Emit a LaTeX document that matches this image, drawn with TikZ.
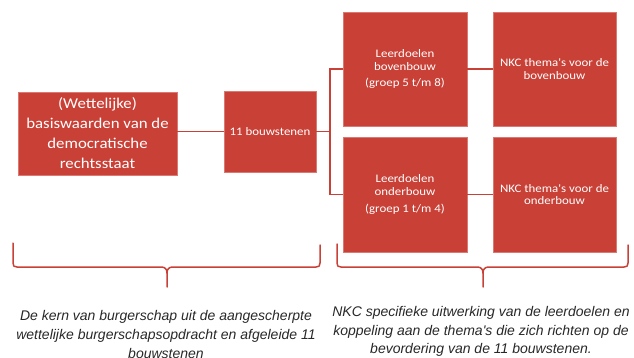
\documentclass[tikz,border=0pt]{standalone}
\usepackage{fontspec}
\newfontfamily\boxfont{Carlito}[FakeStretch=1.12]
\newfontfamily\capfont{Liberation Sans}
\definecolor{boxred}{RGB}{200,64,54}
\definecolor{captext}{RGB}{40,40,40}
\begin{document}
\begin{tikzpicture}[x=1pt,y=-1pt,
  redbox/.style={fill=boxred,draw=boxred!70!white,line width=0.5pt,text=white,align=center,inner sep=0pt},
  link/.style={draw=boxred,line width=1.1pt},
  bracestyle/.style={draw=boxred,line width=1.5pt,line cap=round,line join=round},
  caption/.style={text=captext,align=center,inner sep=0pt,anchor=north}]
\useasboundingbox (0,0) rectangle (634,358);
% boxes
\node[redbox,minimum width=159pt,minimum height=83pt,font=\boxfont\fontsize{15}{20}\selectfont] (lb) at (97.5,133.5) {(Wettelijke)\\basiswaarden van de\\democratische\\rechtsstaat};
\node[redbox,minimum width=92pt,minimum height=81pt,font=\boxfont\fontsize{11.5}{13}\selectfont] (b11) at (270,131.5) {11 bouwstenen};
\node[redbox,minimum width=124pt,minimum height=114pt,font=\boxfont\fontsize{11.5}{12.7}\selectfont] (ld1) at (405,69) {Leerdoelen\\bovenbouw\\[4pt](groep 5 t/m 8)};
\node[redbox,minimum width=124pt,minimum height=115pt,font=\boxfont\fontsize{11.5}{12.7}\selectfont] (ld2) at (405,194.5) {Leerdoelen\\onderbouw\\[4pt](groep 1 t/m 4)};
\node[redbox,minimum width=123pt,minimum height=114pt,font=\boxfont\fontsize{11.5}{12.7}\selectfont] (nk1) at (554.5,69) {NKC thema's voor de\\bovenbouw};
\node[redbox,minimum width=123pt,minimum height=115pt,font=\boxfont\fontsize{11.5}{12.7}\selectfont] (nk2) at (554.5,194.5) {NKC thema's voor de\\onderbouw};
% connectors
\coordinate (j) at (330,131.5);
\draw[link] (b11.west) -- (lb.east |- b11.west);
\draw[link] (b11.east) -- (j);
\draw[link] (j) |- (ld1.west);
\draw[link] (j) |- (ld2.west);
\draw[link] (ld1.east) -- (nk1.west);
\draw[link] (ld2.east) -- (nk2.west);
% braces
\draw[bracestyle] (13,243) -- (13,263) .. controls (13,266) and (14,267) .. (17,267) -- (161,267) .. controls (165,267) and (167,269) .. (167,273) -- (167,287);
\draw[bracestyle] (320,245) -- (320,263) .. controls (320,266) and (319,267) .. (316,267) -- (173,267) .. controls (169,267) and (167,269) .. (167,273);
\draw[bracestyle] (337,244) -- (337,263) .. controls (337,266) and (338,267) .. (341,267) -- (477,267) .. controls (481,267) and (483,269) .. (483,273) -- (483,287);
\draw[bracestyle] (628,245) -- (628,263) .. controls (628,266) and (627,267) .. (624,267) -- (489,267) .. controls (485,267) and (483,269) .. (483,273);
% captions
\node[caption,font=\capfont\itshape\fontsize{14}{19}\selectfont] (c1) at (166,310) {De kern van burgerschap uit de aangescherpte\\wettelijke burgerschapsopdracht en afgeleide 11\\bouwstenen};
\node[caption,font=\capfont\itshape\fontsize{14}{18.5}\selectfont] (c2) at (481,306.5) {NKC specifieke uitwerking van de leerdoelen en\\koppeling aan de thema's die zich richten op de\\bevordering van de 11 bouwstenen.};
\end{tikzpicture}
\end{document}
